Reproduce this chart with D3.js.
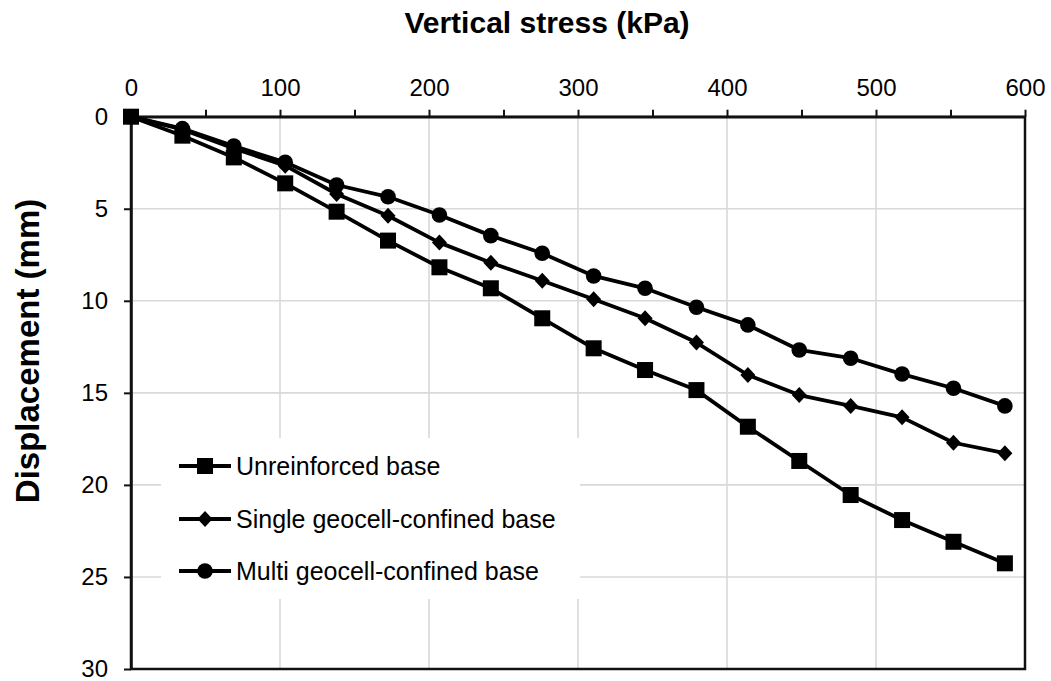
<!DOCTYPE html>
<html>
<head>
<meta charset="utf-8">
<script src="https://cdn.jsdelivr.net/npm/d3@7"></script>
<style>
  html, body { margin: 0; padding: 0; background: #fff; }
  svg { display: block; font-family: "Liberation Sans", Arial, sans-serif; }
</style>
</head>
<body>
<svg id="chart" width="1051" height="681"></svg>
<script>
// Applied vertical stress (kPa) at each load step
const stress = [0, 34.5, 69, 103.5, 138, 172.5, 207, 241.5, 276, 310.5, 345, 379.5, 414, 448.5, 483, 517.5, 552, 586.5];

// Settlement (mm) of each base type
const unreinforced = [0, 1.03, 2.21, 3.62, 5.16, 6.73, 8.18, 9.32, 10.95, 12.58, 13.76, 14.85, 16.84, 18.70, 20.55, 21.91, 23.09, 24.26];
const singleCell   = [0, 0.69, 1.72, 2.66, 4.20, 5.38, 6.84, 7.93, 8.91, 9.92, 10.95, 12.27, 14.03, 15.12, 15.71, 16.33, 17.71, 18.28];
const multiCell    = [0, 0.65, 1.59, 2.48, 3.71, 4.35, 5.34, 6.46, 7.42, 8.65, 9.32, 10.35, 11.31, 12.67, 13.12, 13.98, 14.75, 15.71];

const seriesNames = ["Unreinforced base", "Single geocell-confined base", "Multi geocell-confined base"];
const seriesMarkers = ["square", "diamond", "circle"];

const xMajorTicks = [0, 100, 200, 300, 400, 500, 600];
const xMinorTicks = [50, 150, 250, 350, 450, 550];
const yTicks = [0, 5, 10, 15, 20, 25, 30];

const svg = d3.select("#chart");
const plotL = 131, plotR = 1025, plotT = 116.7, plotB = 669;

const x = d3.scaleLinear().domain([0, 600]).range([plotL, plotR]);
const y = d3.scaleLinear().domain([0, 30]).range([plotT, plotB]);

// Gridlines
const grid = svg.append("g").attr("stroke", "#d9d9d9").attr("stroke-width", 1.6);
grid.selectAll("line.v").data(xMajorTicks.slice(1, -1)).join("line")
  .attr("x1", d => x(d)).attr("x2", d => x(d)).attr("y1", plotT).attr("y2", plotB);
grid.selectAll("line.h").data(yTicks.slice(1, -1)).join("line")
  .attr("x1", plotL).attr("x2", plotR).attr("y1", d => y(d)).attr("y2", d => y(d));

// Legend panel (white background hides the grid behind it)
svg.append("rect").attr("x", 161).attr("y", 438).attr("width", 419).attr("height", 161).attr("fill", "#fff");

// Plot frame
svg.append("rect").attr("x", plotL).attr("y", plotT).attr("width", plotR - plotL).attr("height", plotB - plotT)
  .attr("fill", "none").attr("stroke", "#111").attr("stroke-width", 2.5);

// X axis along the top
const xAxis = svg.append("g").attr("transform", `translate(0,${plotT})`)
  .call(d3.axisTop(x).tickValues(xMajorTicks.concat(xMinorTicks)).tickSize(7).tickSizeOuter(0)
    .tickFormat(d => xMajorTicks.includes(d) ? d : ""));
xAxis.select(".domain").attr("stroke", "#111").attr("stroke-width", 2.5);
xAxis.selectAll(".tick line").attr("stroke", "#111").attr("stroke-width", 2);
xAxis.selectAll(".tick text").attr("font-size", 24).attr("fill", "#000").attr("y", -21);

// Y axis on the left
const yAxis = svg.append("g").attr("transform", `translate(${plotL},0)`)
  .call(d3.axisLeft(y).tickValues(yTicks).tickSize(7).tickSizeOuter(0));
yAxis.select(".domain").attr("stroke", "#111").attr("stroke-width", 2.5);
yAxis.selectAll(".tick line").attr("stroke", "#111").attr("stroke-width", 2);
yAxis.selectAll(".tick text").attr("font-size", 24).attr("fill", "#000").attr("x", -23);

// Axis titles
svg.append("text").attr("x", 547).attr("y", 33).attr("text-anchor", "middle")
  .attr("font-size", 30).attr("font-weight", "bold").text("Vertical stress (kPa)");
svg.append("text").attr("transform", "translate(39,351) rotate(-90)").attr("text-anchor", "middle")
  .attr("font-size", 33).attr("font-weight", "bold").text("Displacement (mm)");

// Marker shapes
function drawMarker(g, type, cx, cy) {
  if (type === "square") {
    g.append("rect").attr("x", cx - 8).attr("y", cy - 8).attr("width", 16).attr("height", 16).attr("fill", "#000");
  } else if (type === "diamond") {
    g.append("path").attr("d", `M${cx},${cy - 8}L${cx + 7.5},${cy}L${cx},${cy + 8}L${cx - 7.5},${cy}Z`).attr("fill", "#000");
  } else {
    g.append("circle").attr("cx", cx).attr("cy", cy).attr("r", 7.8).attr("fill", "#000");
  }
}

// Series
const seriesData = [unreinforced, singleCell, multiCell];
const line = d3.line().x(d => x(d[0])).y(d => y(d[1]));
seriesData.forEach((vals, k) => {
  const pts = stress.map((s, i) => [s, vals[i]]);
  const g = svg.append("g");
  g.append("path").datum(pts).attr("d", line).attr("fill", "none")
    .attr("stroke", "#000").attr("stroke-width", 3.8).attr("stroke-linejoin", "round");
  pts.forEach(p => drawMarker(g, seriesMarkers[k], x(p[0]), y(p[1])));
});

// Legend entries
const legendRows = [466, 519, 571];
seriesNames.forEach((name, k) => {
  const g = svg.append("g");
  const ly = legendRows[k];
  g.append("line").attr("x1", 179).attr("x2", 231).attr("y1", ly).attr("y2", ly)
    .attr("stroke", "#000").attr("stroke-width", 3.8);
  drawMarker(g, seriesMarkers[k], 205, ly);
  g.append("text").attr("x", 236).attr("y", ly + 8.5).attr("font-size", 25).attr("fill", "#000").text(name);
});
</script>
</body>
</html>
